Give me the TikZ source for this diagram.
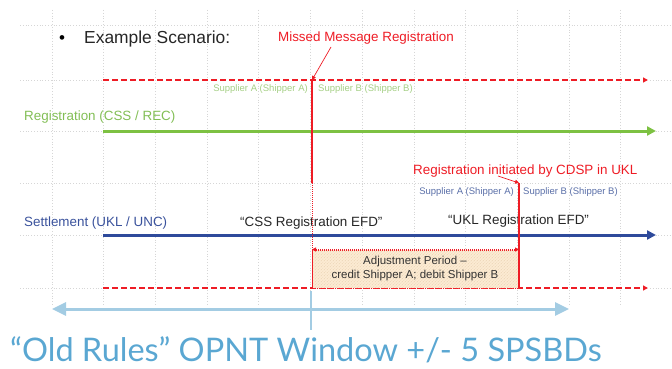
\documentclass[tikz,border=0pt]{standalone}
\usepackage{fontspec}
\setmainfont{Liberation Sans}
\newfontfamily\bigfont{Lato}
\usetikzlibrary{arrows.meta,patterns}
\definecolor{myred}{HTML}{EE1C25}
\definecolor{mygreen}{HTML}{7DC142}
\definecolor{greentext}{HTML}{82BE55}
\definecolor{lightgreentext}{HTML}{A5CF85}
\definecolor{myblue}{HTML}{2E4A9B}
\definecolor{bluetext}{HTML}{3A529C}
\definecolor{smallbluetext}{HTML}{5A6FA8}
\definecolor{lightblue}{HTML}{A3CCE3}
\definecolor{bigblue}{HTML}{5AA7D2}
\definecolor{beige}{HTML}{FCEBD3}
\definecolor{hatch}{HTML}{EAD3B5}
\definecolor{gridgray}{HTML}{D6D6D6}
\tikzset{
  gridline/.style={draw=gridgray, dotted, line width=0.8pt},
  reddash/.style={draw=myred, line width=1.4pt, dash pattern=on 5.5pt off 3.5pt, -{Triangle[length=5pt,width=5pt]}},
  timeline/.style={line width=3pt, -{Triangle[length=9pt,width=9pt]}},
  pointer/.style={draw=myred, line width=0.7pt, -{Triangle[length=4pt,width=4pt]}},
  txt/.style={inner sep=0pt, anchor=base west},
  smalltxt/.style={inner sep=0pt, anchor=base west, font=\fontsize{9.5}{11}\selectfont},
  midtxt/.style={inner sep=0pt, font=\fontsize{13.4}{16}\selectfont},
}
\begin{document}
\begin{tikzpicture}[x=1pt,y=-1pt]
\useasboundingbox (0,0) rectangle (672,369);
% faint background grid
\foreach \x in {52,103.7,155.4,207.1,258.8,310.5,362.2,413.9,465.6,517.3,569,620.7}
  \draw[gridline] (\x,10) -- (\x,305);
\draw[gridline] (20,25) -- (672,25);
\draw[gridline] (20,183) -- (672,183);
\foreach \y in {80,131,235,288}{
  \draw[gridline] (20,\y) -- (103,\y);
  \draw[gridline] (650,\y) -- (672,\y);
}
% title
\node[txt, font=\fontsize{17}{20}\selectfont] (bul) at (59,44) {\textbullet};
\node[txt, font=\fontsize{17.4}{20}\selectfont, text=black!85] (title) at (84,44) {Example Scenario:};
% coordinates
\coordinate (l1s) at (103,80);  \coordinate (l1e) at (648,80);
\coordinate (gs) at (103,131);  \coordinate (ge) at (656,131);
\coordinate (bs) at (103,235);  \coordinate (be) at (656,235);
\coordinate (l2s) at (103,288); \coordinate (l2e) at (648,288);
\coordinate (v1t) at (312,80);  \coordinate (v1m) at (312,183); \coordinate (v1b) at (312,288);
\coordinate (v2t) at (519,183); \coordinate (v2b) at (519,288);
% red dashed lines
\draw[reddash] (l1s) -- (l1e);
\draw[reddash] (l2s) -- (l2e);
% registration line
\node[txt, font=\fontsize{13.4}{16}\selectfont, text=greentext] (reglbl) at (24,120) {Registration (CSS / REC)};
\draw[timeline, mygreen] (gs) -- (ge);
% settlement line
\node[txt, font=\fontsize{13.4}{16}\selectfont, text=bluetext] (setlbl) at (24,226) {Settlement (UKL / UNC)};
\draw[timeline, myblue] (bs) -- (be);
\node[txt, font=\fontsize{13.4}{16}\selectfont, text=black!85] (cssefd) at (240,226) {``CSS Registration EFD''};
\node[txt, font=\fontsize{13.4}{16}\selectfont, text=black!85] (uklefd) at (448,224) {``UKL Registration EFD''};
% adjustment box
\node[draw=myred, densely dotted, line width=1pt, minimum width=206pt, minimum height=38pt,
      preaction={fill=beige}, pattern=north east lines, pattern color=hatch,
      inner sep=0pt] (box) at (415.5,269) {};
\node[align=center, font=\fontsize{11.5}{13.5}\selectfont, text=black!80, inner sep=0pt] (boxtxt) at (415,268.5)
  {Adjustment Period --\\credit Shipper A; debit Shipper B};
\draw[myred, densely dotted, line width=1pt, {Triangle[length=4pt,width=4pt]}-{Triangle[length=4pt,width=4pt]}] (box.north west) -- (box.north east);
% red verticals
\draw[myred, line width=1.5pt] (v1t) -- (v1m);
\draw[myred, densely dotted, line width=1pt] (v1m) -- (v1b);
\draw[myred, line width=2pt] (v2t) -- (v2b);
% labels at verticals
\node[midtxt, text=myred, anchor=base] (missed) at (366,42) {Missed Message Registration};
\draw[pointer] (331,47) -- (v1t);
\node[smalltxt, text=lightgreentext, anchor=base east] (supA1) at (308,92) {Supplier A (Shipper A)};
\node[smalltxt, text=lightgreentext] (supB1) at (318,92) {Supplier B (Shipper B)};
\node[midtxt, text=myred, anchor=base west] (cdsp) at (413,174) {Registration initiated by CDSP in UKL};
\draw[pointer] (498,176) -- (v2t);
\node[smalltxt, text=smallbluetext, anchor=base east] (supA2) at (514,194) {Supplier A (Shipper A)};
\node[smalltxt, text=smallbluetext] (supB2) at (523,194) {Supplier B (Shipper B)};
% old rules window
\coordinate (wl) at (52,309); \coordinate (wr) at (569,309);
\coordinate (tt) at (311,291); \coordinate (tb) at (311,330);
\draw[lightblue, line width=3pt, {Triangle[length=14pt,width=13pt]}-{Triangle[length=14pt,width=13pt]}] (wl) -- (wr);
\draw[lightblue, line width=1.5pt] (tt) -- (tb);
\node[txt, font=\bigfont\fontsize{32.5}{38}\selectfont, text=bigblue] (big) at (10,361.5) {“Old Rules” OPNT Window +/- 5 SPSBDs};
\end{tikzpicture}
\end{document}
